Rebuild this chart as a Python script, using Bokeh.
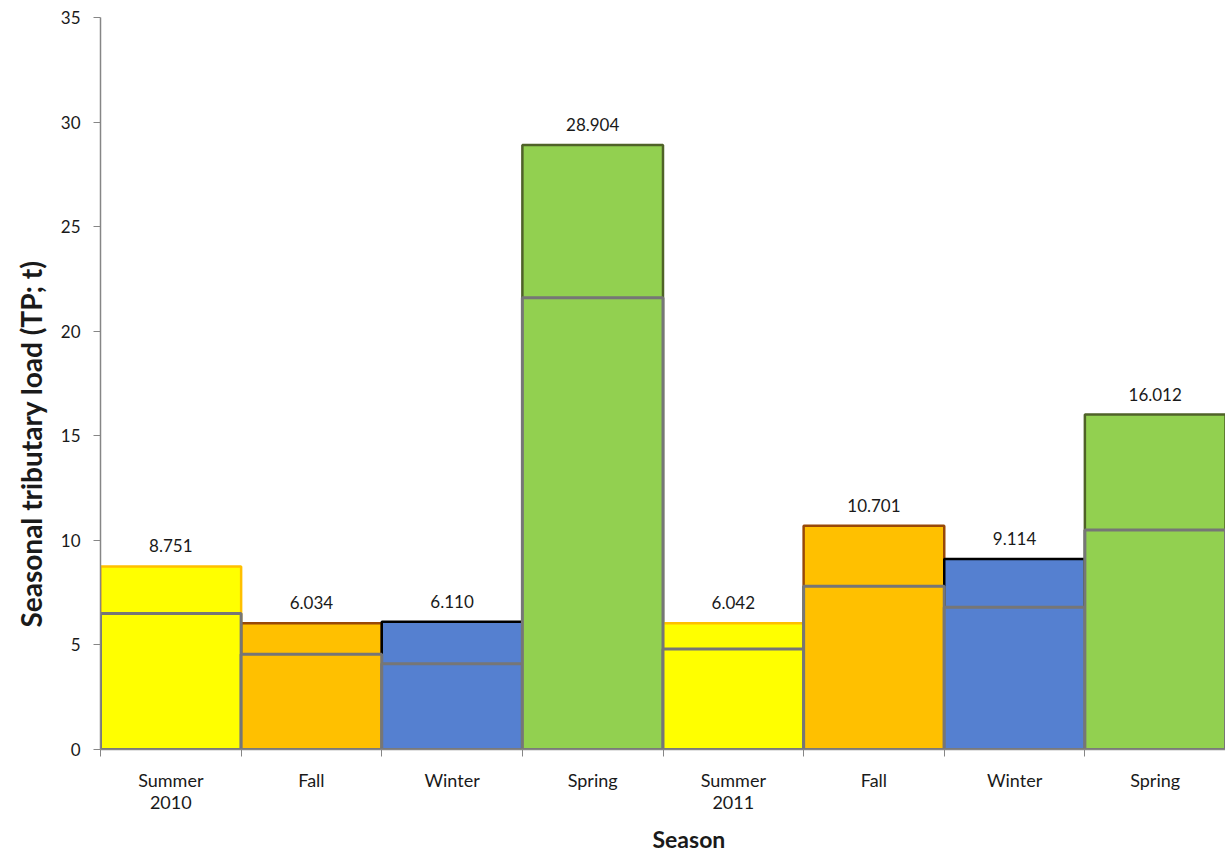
from bokeh.plotting import figure
from bokeh.models import FixedTicker, Range1d, ColumnDataSource, Title
from bokeh.core.properties import value
from bokeh.embed import file_html
from bokeh.resources import INLINE

seasons = ["Summer\n2010", "Fall", "Winter", "Spring", "Summer\n2011", "Fall", "Winter", "Spring"]
totals = [8.751, 6.034, 6.110, 28.904, 6.042, 10.701, 9.114, 16.012]
lower = [6.5, 4.55, 4.1, 21.6, 4.8, 7.8, 6.8, 10.5]
fills = ["#FFFF00", "#FFC000", "#5580D0", "#92D050", "#FFFF00", "#FFC000", "#5580D0", "#92D050"]
edges = ["#FFC000", "#984807", "#000000", "#4F6228", "#FFC000", "#984807", "#000000", "#4F6228"]
yticks = [0, 5, 10, 15, 20, 25, 30, 35]
x_title = "Season"
y_title = "Seasonal tributary load (TP; t)"

n = len(seasons)
left = [i for i in range(n)]
right = [i + 1 for i in range(n)]
centers = [i + 0.5 for i in range(n)]

src = ColumnDataSource(dict(left=left, right=right, x=centers, top=totals, low=lower,
                            fill=fills, edge=edges, lab=["%.3f" % v for v in totals]))

FONT = "Lato"
TXT = "#1a1a1a"

p = figure(width=1225, height=859, output_backend="svg", toolbar_location=None,
           x_range=Range1d(0, n), y_range=Range1d(0, 35),
           min_border_left=100, min_border_right=0, min_border_top=17, min_border_bottom=109)
p.outline_line_color = None
p.xgrid.grid_line_color = None
p.ygrid.grid_line_color = None
p.background_fill_color = "white"
p.border_fill_color = "white"

p.quad(left="left", right="right", bottom=0, top="top", fill_color="fill",
       line_color="edge", line_width=2.5, source=src)
p.quad(left="left", right="right", bottom=0, top="low", fill_color="fill",
       line_color="#767676", line_width=3, source=src)

p.text(x="x", y="top", text="lab", source=src, text_align="center", text_baseline="bottom",
       y_offset=-14, text_font=value(FONT), text_font_size="17px", text_color=TXT)

# x axis
xa = p.xaxis[0]
xa.ticker = FixedTicker(ticks=centers, minor_ticks=list(range(n + 1)))
xa.major_label_overrides = {c: s for c, s in zip(centers, seasons)}
xa.major_tick_line_color = None
xa.major_tick_in = 0
xa.major_tick_out = 0
xa.minor_tick_in = 0
xa.minor_tick_out = 7
xa.minor_tick_line_color = "#868686"
xa.axis_line_color = "#868686"
xa.axis_line_width = 1.5
xa.major_label_text_font = FONT
xa.major_label_text_font_size = "18px"
xa.major_label_text_line_height = 1.0
xa.major_label_text_color = TXT
xa.major_label_standoff = 12

# y axis
ya = p.yaxis[0]
ya.ticker = FixedTicker(ticks=yticks, minor_ticks=[])
ya.major_tick_in = 0
ya.major_tick_out = 7
ya.major_tick_line_color = "#868686"
ya.axis_line_color = "#868686"
ya.axis_line_width = 1.5
ya.major_label_text_font = FONT
ya.major_label_text_font_size = "17px"
ya.major_label_text_color = TXT
ya.major_label_standoff = 13

# axis titles (offset from the frame centre as in the original)
p.add_layout(Title(text=x_title, align="left", offset=552, standoff=14,
                   text_font=FONT, text_font_style="bold", text_font_size="23px",
                   text_color=TXT), "below")
p.add_layout(Title(text=y_title, align="left", offset=122, standoff=19,
                   text_font=FONT, text_font_style="bold", text_font_size="28px",
                   text_color=TXT), "left")

open("out.html", "w").write(file_html(p, INLINE))
